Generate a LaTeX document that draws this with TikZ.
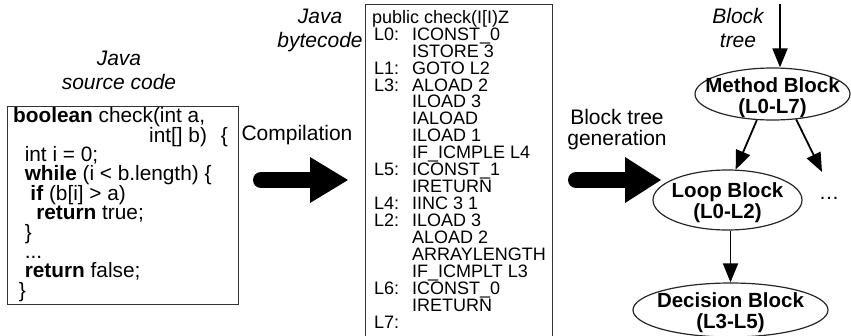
\documentclass[tikz,border=0pt]{standalone}
\usepackage{fontspec}
\setmainfont{Liberation Sans}
\usetikzlibrary{arrows.meta,shapes.geometric,calc}

\tikzset{
  frame/.style={draw=black!80, line width=1.3pt, inner sep=0pt, anchor=north west},
  heading/.style={font=\fontsize{21}{23.5}\selectfont\itshape, align=center, inner sep=0pt, anchor=north},
  caption/.style={font=\fontsize{21}{21}\selectfont, align=center, inner sep=0pt, anchor=north},
  srccode/.style={font=\fontsize{20.8}{19.4}\selectfont, align=left, inner sep=0pt, anchor=north west},
  bytecode/.style={font=\fontsize{18}{16.95}\selectfont, align=left, inner sep=0pt, anchor=north west},
  blk/.style={draw=black!85, line width=1.2pt, ellipse, inner sep=0pt},
  blktext/.style={font=\fontsize{20.5}{21}\selectfont\bfseries, align=center, inner sep=0pt},
  edge/.style={line width=1.8pt, -{Triangle[length=19pt,width=15pt]}},
  bigshaft/.style={line width=16pt, line cap=round},
}

% one bytecode row: label column, then the instruction
\newcommand\bcrow[2]{\hspace*{2pt}\makebox[38pt][l]{#1}#2}

\begin{document}
\begin{tikzpicture}[x=1pt,y=-1pt]
\useasboundingbox (0,0) rectangle (851,335);
\clip (0,0) rectangle (851,335);

% ---- Java source ----
\node[heading] (srctitle) at (119,51) {Java\\source code};
\node[frame, minimum width=231pt, minimum height=198pt] (srcbox) at (7,106) {};
\node[srccode] (src) at (13,107.4) {%
\textbf{boolean} check(int a,\\
\hspace*{136pt}int[] b)\hspace{14pt}\{\\
\hspace*{11.6pt}int i = 0;\\
\hspace*{11.6pt}\textbf{while} (i < b.length) \{\\
\hspace*{17.3pt}\textbf{if} (b[i] > a)\\
\hspace*{23.1pt}\textbf{return} true;\\
\hspace*{11.6pt}\}\\
\hspace*{11.6pt}...\\
\hspace*{11.6pt}\textbf{return} false;\\
\hspace*{5.8pt}\}};

% ---- compilation arrow ----
\node[caption] (complbl) at (297,125) {Compilation};
\coordinate (ctail) at (261,180);
\coordinate (cbase) at (310,180);
\coordinate (ctip) at (348,180);
\draw[bigshaft] (ctail) -- (cbase);
\fill (ctip) -- ($(cbase)+(0,-23)$) -- ($(cbase)+(0,23)$) -- cycle;

% ---- Java bytecode ----
\node[heading] (bctitle) at (320,9) {Java\\bytecode};
\node[frame, minimum width=187pt, minimum height=345pt] (bcbox) at (365,4) {};
\node[bytecode] (bc) at (372,10) {%
public check(I[I)Z\\
\bcrow{L0:}{ICONST\_0}\\
\bcrow{}{ISTORE 3}\\
\bcrow{L1:}{GOTO L2}\\
\bcrow{L3:}{ALOAD 2}\\
\bcrow{}{ILOAD 3}\\
\bcrow{}{IALOAD}\\
\bcrow{}{ILOAD 1}\\
\bcrow{}{IF\_ICMPLE L4}\\
\bcrow{L5:}{ICONST\_1}\\
\bcrow{}{IRETURN}\\
\bcrow{L4:}{IINC 3 1}\\
\bcrow{L2:}{ILOAD 3}\\
\bcrow{}{ALOAD 2}\\
\bcrow{}{ARRAYLENGTH}\\
\bcrow{}{IF\_ICMPLT L3}\\
\bcrow{L6:}{ICONST\_0}\\
\bcrow{}{IRETURN}\\
\bcrow{L7:}{}};

% ---- block tree generation arrow ----
\node[caption] (genlbl) at (617,109) {Block tree\\generation};
\coordinate (gtail) at (576,180);
\coordinate (gbase) at (625,180);
\coordinate (gtip) at (661,180);
\draw[bigshaft] (gtail) -- (gbase);
\fill (gtip) -- ($(gbase)+(0,-23)$) -- ($(gbase)+(0,23)$) -- cycle;

% ---- block tree ----
\node[heading] (treelbl) at (738,8.5) {Block\\tree};
\node[blk, minimum width=155pt, minimum height=52pt] (method) at (772.5,94) {};
\node[blktext] (methodtxt) at (772.5,98) {Method Block\\(L0-L7)};
\node[blk, minimum width=149pt, minimum height=60pt] (loop) at (727.5,200) {};
\node[blktext] (looptxt) at (727.5,202.5) {Loop Block\\(L0-L2)};
\node[blk, minimum width=195pt, minimum height=54pt] (decision) at (730.5,310) {};
\node[blktext] (decisiontxt) at (730.5,313) {Decision Block\\(L3-L5)};
\node[font=\fontsize{20.5}{21}\selectfont, inner sep=0pt, anchor=base] (dots) at (829,199) {\dots};

\coordinate (treein) at (780,4);
\coordinate (moretip) at (822,172);
\draw[edge] (treein) -- (treein |- method.north);
\draw[edge] (method.239) -- (loop.75);
\draw[edge] (method.313) -- (moretip);
\draw[edge] (loop.south -| decision.north) -- (decision.north);
\end{tikzpicture}
\end{document}
